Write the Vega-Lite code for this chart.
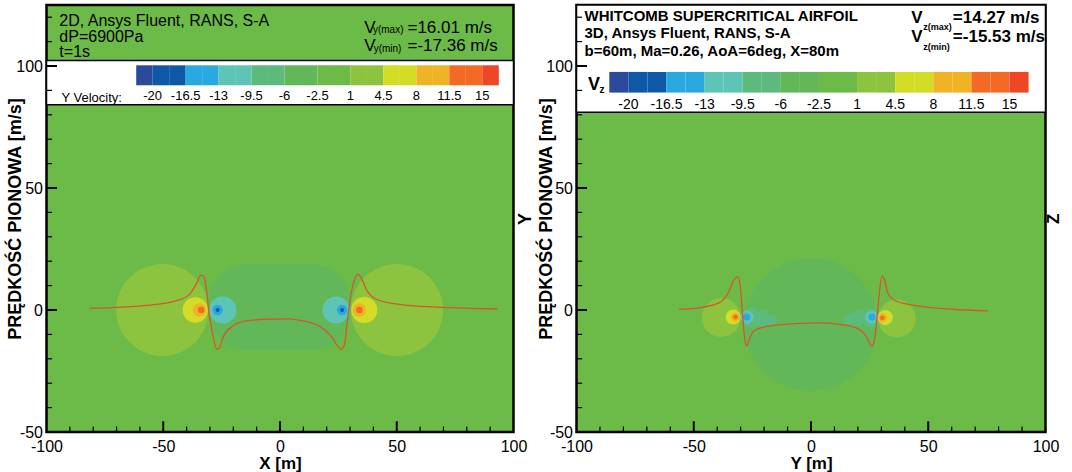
{
  "$schema": "https://vega.github.io/schema/vega-lite/v6.json",
  "padding": {"left": 4.5, "top": 3, "right": 0, "bottom": 0},
  "bounds": "flush",
  "spacing": 63,
  "config": {
    "font": "Liberation Sans",
    "view": {"stroke": "black", "strokeWidth": 2.5, "fill": "#6cbb48"},
    "axis": {
      "domain": false, "grid": false, "labelFont": "Liberation Sans", "labelFontSize": 16,
      "labelColor": "black", "tickColor": "black", "tickOpacity": 0, "titleFont": "Liberation Sans",
      "titleFontSize": 18, "titleFontWeight": "bold", "titleColor": "black",
      "labelOverlap": false, "labelFlush": false, "zindex": 1
    }
  },
  "datasets": {
    "ticks_x_major": [{"t": -50}, {"t": 0}, {"t": 50}],
    "ticks_x_minor": [{"t": -90}, {"t": -80}, {"t": -70}, {"t": -60}, {"t": -40}, {"t": -30}, {"t": -20}, {"t": -10},
      {"t": 10}, {"t": 20}, {"t": 30}, {"t": 40}, {"t": 60}, {"t": 70}, {"t": 80}, {"t": 90}],
    "ticks_y_major": [{"t": 0}, {"t": 50}, {"t": 100}],
    "ticks_y_minor": [{"t": -40}, {"t": -30}, {"t": -20}, {"t": -10}, {"t": 10}, {"t": 20}, {"t": 30}, {"t": 40},
      {"t": 60}, {"t": 70}, {"t": 80}, {"t": 90}, {"t": 110}, {"t": 120}],
    "left_regions": [{"x0": -31, "x1": 30.5, "y0": -16.5, "y1": 19, "v": -4}],
    "left_blobs": [
      {"x": -50.4, "y": 0, "r": 19.7, "v": 2.5},
      {"x": 50.1, "y": 0, "r": 19.7, "v": 2.5},
      {"x": -24.5, "y": 0, "r": 5.8, "v": -11},
      {"x": 24.0, "y": 0, "r": 5.8, "v": -11},
      {"x": -26.7, "y": 0, "r": 2.2, "v": -15},
      {"x": 26.6, "y": 0, "r": 2.2, "v": -15},
      {"x": -26.7, "y": 0, "r": 0.9, "v": -18},
      {"x": 26.6, "y": 0, "r": 0.9, "v": -18},
      {"x": -36.3, "y": 0, "r": 5.4, "v": 6},
      {"x": 36.1, "y": 0, "r": 5.6, "v": 6},
      {"x": -34.5, "y": 0, "r": 2.9, "v": 10},
      {"x": 34.0, "y": 0, "r": 2.9, "v": 10},
      {"x": -33.8, "y": 0, "r": 1.4, "v": 13},
      {"x": 34.0, "y": 0, "r": 1.4, "v": 13}
    ],
    "left_profile": [
      {"x": -81.6, "y": 0.7}, {"x": -67.4, "y": 1.2}, {"x": -53.1, "y": 2.3}, {"x": -44.5, "y": 3.7},
      {"x": -38.8, "y": 6.4}, {"x": -35.9, "y": 10.6}, {"x": -33.8, "y": 14.4}, {"x": -32.4, "y": 13.3},
      {"x": -31.4, "y": 7.8}, {"x": -30.5, "y": -0.4}, {"x": -28.8, "y": -10}, {"x": -27.1, "y": -16.1},
      {"x": -25.9, "y": -15.5}, {"x": -24.5, "y": -11.4}, {"x": -20.3, "y": -6.6}, {"x": -14.5, "y": -4.5},
      {"x": -6, "y": -3.8}, {"x": 4, "y": -3.6}, {"x": 9.7, "y": -4.5}, {"x": 16.9, "y": -6.6},
      {"x": 21.9, "y": -10.7}, {"x": 24.7, "y": -14.8}, {"x": 26.2, "y": -16.1}, {"x": 27.6, "y": -14.1},
      {"x": 29, "y": -3.2}, {"x": 30.4, "y": 6.4}, {"x": 32.3, "y": 13.3}, {"x": 33.3, "y": 14.7},
      {"x": 34.7, "y": 13.3}, {"x": 36.9, "y": 8.5}, {"x": 41.2, "y": 4.4}, {"x": 52.5, "y": 2.1},
      {"x": 66.9, "y": 1.2}, {"x": 81.1, "y": 0.7}, {"x": 93.2, "y": 0.4}
    ],
    "right_blobs": [
      {"x": 0, "y": -6, "r": 28.5, "v": -4},
      {"x": -25.5, "y": -3.2, "r": 4.3, "v": -8},
      {"x": -20.5, "y": -3.5, "r": 3.4, "v": -8},
      {"x": -16.5, "y": -3.8, "r": 2.3, "v": -8},
      {"x": 25.5, "y": -3.2, "r": 4.3, "v": -8},
      {"x": 20.5, "y": -3.5, "r": 3.4, "v": -8},
      {"x": 16.5, "y": -3.8, "r": 2.3, "v": -8},
      {"x": -38.3, "y": -3.1, "r": 8.3, "v": 2.5},
      {"x": 36.6, "y": -3.5, "r": 8.1, "v": 2.5},
      {"x": -27.3, "y": -2.9, "r": 2.8, "v": -11},
      {"x": 25.9, "y": -2.9, "r": 2.8, "v": -11},
      {"x": -27.4, "y": -2.9, "r": 1.5, "v": -15},
      {"x": 26.0, "y": -2.9, "r": 1.5, "v": -15},
      {"x": -33.2, "y": -2.9, "r": 3.2, "v": 6},
      {"x": 31.7, "y": -3.1, "r": 3.2, "v": 6},
      {"x": -32.2, "y": -2.9, "r": 1.9, "v": 10},
      {"x": 30.6, "y": -3.2, "r": 1.9, "v": 10},
      {"x": -32.2, "y": -2.9, "r": 1.0, "v": 13},
      {"x": 30.4, "y": -3.2, "r": 1.0, "v": 13}
    ],
    "right_profile": [
      {"x": -56.2, "y": 0.3}, {"x": -47.7, "y": 0.9}, {"x": -39.1, "y": 3}, {"x": -34.9, "y": 7.8},
      {"x": -32.7, "y": 12.6}, {"x": -31.3, "y": 13.6}, {"x": -30.3, "y": 10.6}, {"x": -29.4, "y": 0.9},
      {"x": -28.5, "y": -10}, {"x": -27.5, "y": -14.8}, {"x": -26.3, "y": -12}, {"x": -24.2, "y": -8.4},
      {"x": -17.8, "y": -6.6}, {"x": -6.4, "y": -5.6}, {"x": 3.5, "y": -5.3}, {"x": 12.1, "y": -5.9},
      {"x": 19.2, "y": -7.3}, {"x": 23.5, "y": -10.7}, {"x": 26, "y": -14.8}, {"x": 27, "y": -12.7},
      {"x": 28.4, "y": -0.4}, {"x": 29.4, "y": 9.2}, {"x": 30.3, "y": 14}, {"x": 31.3, "y": 12.6},
      {"x": 32.7, "y": 7.1}, {"x": 36.3, "y": 3.7}, {"x": 46.2, "y": 1.6}, {"x": 60.4, "y": 0.3},
      {"x": 75.4, "y": -0.4}
    ]
  },
  "hconcat": [
    {
      "width": 467,
      "height": 427,
      "resolve": {"axis": {"x": "independent", "y": "independent"}},
      "layer": [
        {
          "data": {"values": [{}]},
          "mark": {"type": "rect", "fill": "white", "stroke": "black", "strokeWidth": 1.5},
          "encoding": {"x": {"datum": -100, "axis": null}, "x2": {"datum": 100}, "y": {"datum": 84.1, "axis": null}, "y2": {"datum": 102.3}}
        },
        {
          "data": {"name": "left_regions"},
          "mark": {"type": "rect", "cornerRadius": 40},
          "encoding": {
            "x": {"field": "x0", "type": "quantitative", "axis": null}, "x2": {"field": "x1"},
            "y": {"field": "y0", "type": "quantitative", "axis": null}, "y2": {"field": "y1"},
            "color": {"field": "v", "type": "quantitative",
              "scale": {"type": "threshold", "domain": [-20,-18.25,-16.5,-14.75,-13,-11.25,-9.5,-7.75,-6,-4.25,-2.5,-0.75,1,2.75,4.5,6.25,8,9.75,11.5,13.25,15],
                "range": ["#2b4a9b","#0e58a7","#0e58a7","#2aa8e0","#2aa8e0","#5ec4b6","#5ec4b6","#5cba7c","#5cba7c","#62b858","#62b858","#6cbb48","#6cbb48","#8cc43f","#8cc43f","#d4dd26","#d4dd26","#efb325","#efb325","#f26a24","#f26a24","#ee4627"]}}
          }
        },
        {
          "data": {"name": "left_blobs"},
          "mark": {"type": "point", "shape": "circle", "filled": true, "opacity": 1, "strokeWidth": 0},
          "encoding": {
            "x": {"field": "x", "type": "quantitative", "axis": null},
            "y": {"field": "y", "type": "quantitative", "axis": null},
            "size": {"field": "r", "type": "quantitative", "scale": {"type": "pow", "exponent": 2, "domain": [0, 30], "range": [0, 19713]}, "legend": null},
            "color": {"field": "v", "type": "quantitative",
              "scale": {"type": "threshold", "domain": [-20,-18.25,-16.5,-14.75,-13,-11.25,-9.5,-7.75,-6,-4.25,-2.5,-0.75,1,2.75,4.5,6.25,8,9.75,11.5,13.25,15],
                "range": ["#2b4a9b","#0e58a7","#0e58a7","#2aa8e0","#2aa8e0","#5ec4b6","#5ec4b6","#5cba7c","#5cba7c","#62b858","#62b858","#6cbb48","#6cbb48","#8cc43f","#8cc43f","#d4dd26","#d4dd26","#efb325","#efb325","#f26a24","#f26a24","#ee4627"]},
              "legend": {"type": "gradient", "orient": "none", "legendX": 89.7, "legendY": 60.3, "direction": "horizontal",
                "gradientLength": 362.6, "gradientThickness": 20, "gradientStrokeWidth": 0, "title": null, "padding": 0,
                "labelFont": "Liberation Sans", "labelFontSize": 13, "labelColor": "black", "labelOffset": 5, "labelOverlap": false,
                "labelExpr": "(datum.value + 20) % 3.5 === 0 ? toString(datum.value) : ''"}}
          }
        },
        {
          "data": {"name": "left_profile"},
          "mark": {"type": "line", "color": "#d4572a", "strokeWidth": 1.3, "interpolate": "monotone"},
          "encoding": {
            "x": {"field": "x", "type": "quantitative", "scale": {"domain": [-100, 100], "nice": false, "zero": false},
              "axis": {"orient": "bottom", "values": [-100, -50, 0, 50, 100], "title": "X [m]", "labelOverlap": false,
                "labelExpr": "toString(datum.value)", "offset": -10, "tickSize": 10, "tickOpacity": 0, "zindex": 1,
                "labelPadding": 6, "titlePadding": 1, "titleFontSize": 17}},
            "y": {"field": "y", "type": "quantitative", "scale": {"domain": [-50, 125], "nice": false, "zero": false},
              "axis": {"orient": "left", "values": [-50, 0, 50, 100], "title": "PRĘDKOŚĆ PIONOWA [m/s]", "labelOverlap": false,
                "labelExpr": "toString(datum.value)", "offset": -10, "tickSize": 10, "tickOpacity": 0, "zindex": 1,
                "labelPadding": 4, "titlePadding": -8.5}}
          }
        },
        {
          "data": {"name": "ticks_x_major"},
          "mark": {"type": "rule", "color": "black", "strokeWidth": 2},
          "encoding": {"x": {"field": "t", "type": "quantitative", "axis": null}, "y": {"datum": -50, "axis": null}, "y2": {"datum": -45.6}}
        },
        {
          "data": {"name": "ticks_x_minor"},
          "mark": {"type": "rule", "color": "black", "strokeWidth": 1.2},
          "encoding": {"x": {"field": "t", "type": "quantitative", "axis": null}, "y": {"datum": -50, "axis": null}, "y2": {"datum": -47.7}}
        },
        {
          "data": {"name": "ticks_y_major"},
          "mark": {"type": "rule", "color": "black", "strokeWidth": 2},
          "encoding": {"y": {"field": "t", "type": "quantitative", "axis": null}, "x": {"datum": -100, "axis": null}, "x2": {"datum": -95.5}}
        },
        {
          "data": {"name": "ticks_y_minor"},
          "mark": {"type": "rule", "color": "black", "strokeWidth": 1.2},
          "encoding": {"y": {"field": "t", "type": "quantitative", "axis": null}, "x": {"datum": -100, "axis": null}, "x2": {"datum": -97.6}}
        },
        {
          "data": {"values": [{}]},
          "mark": {"type": "text", "align": "left", "baseline": "top", "fontSize": 16, "lineHeight": 15.5, "color": "black"},
          "encoding": {"x": {"datum": -94.5, "axis": null}, "y": {"datum": 121.6, "axis": null}, "text": {"value": ["2D, Ansys Fluent, RANS, S-A", "dP=6900Pa", "t=1s"]}}
        },
        {
          "data": {"values": [{}]},
          "mark": {"type": "text", "align": "left", "baseline": "top", "fontSize": 17, "lineHeight": 18, "color": "black"},
          "encoding": {"x": {"datum": 36.1, "axis": null}, "y": {"datum": 118.8, "axis": null}, "text": {"value": ["V", "V"]}}
        },
        {
          "data": {"values": [{}]},
          "mark": {"type": "text", "align": "left", "baseline": "top", "fontSize": 17, "lineHeight": 18, "color": "black"},
          "encoding": {"x": {"datum": 54.6, "axis": null}, "y": {"datum": 118.8, "axis": null}, "text": {"value": ["=16.01 m/s", "=-17.36 m/s"]}}
        },
        {
          "data": {"values": [{}]},
          "mark": {"type": "text", "align": "left", "baseline": "middle", "fontSize": 10, "color": "black"},
          "encoding": {"x": {"datum": 39.8, "axis": null}, "y": {"datum": 114.6, "axis": null}, "text": {"value": "y(max)"}}
        },
        {
          "data": {"values": [{}]},
          "mark": {"type": "text", "align": "left", "baseline": "middle", "fontSize": 10, "color": "black"},
          "encoding": {"x": {"datum": 40.1, "axis": null}, "y": {"datum": 107.0, "axis": null}, "text": {"value": "y(min)"}}
        },
        {
          "data": {"values": [{}]},
          "mark": {"type": "text", "align": "left", "baseline": "middle", "fontSize": 13, "color": "black"},
          "encoding": {"x": {"datum": -93.6, "axis": null}, "y": {"datum": 87.0, "axis": null}, "text": {"value": "Y Velocity:"}}
        }
      ]
    },
    {
      "width": 469,
      "height": 427,
      "resolve": {"axis": {"x": "independent", "y": "independent"}},
      "layer": [
        {
          "data": {"values": [{}]},
          "mark": {"type": "rect", "fill": "white", "stroke": "black", "strokeWidth": 1.5},
          "encoding": {"x": {"datum": -100, "axis": null}, "x2": {"datum": 100}, "y": {"datum": 81, "axis": null}, "y2": {"datum": 125}}
        },
        {
          "data": {"name": "right_blobs"},
          "mark": {"type": "point", "shape": "circle", "filled": true, "opacity": 1, "strokeWidth": 0},
          "encoding": {
            "x": {"field": "x", "type": "quantitative", "axis": null},
            "y": {"field": "y", "type": "quantitative", "axis": null},
            "size": {"field": "r", "type": "quantitative", "scale": {"type": "pow", "exponent": 2, "domain": [0, 30], "range": [0, 19713]}, "legend": null},
            "color": {"field": "v", "type": "quantitative",
              "scale": {"type": "threshold", "domain": [-20,-18.25,-16.5,-14.75,-13,-11.25,-9.5,-7.75,-6,-4.25,-2.5,-0.75,1,2.75,4.5,6.25,8,9.75,11.5,13.25,15],
                "range": ["#2b4a9b","#0e58a7","#0e58a7","#2aa8e0","#2aa8e0","#5ec4b6","#5ec4b6","#5cba7c","#5cba7c","#62b858","#62b858","#6cbb48","#6cbb48","#8cc43f","#8cc43f","#d4dd26","#d4dd26","#efb325","#efb325","#f26a24","#f26a24","#ee4627"]},
              "legend": {"type": "gradient", "orient": "none", "legendX": 32.8, "legendY": 66.9, "direction": "horizontal",
                "gradientLength": 419.3, "gradientThickness": 20.7, "gradientStrokeWidth": 0, "title": null, "padding": 0,
                "labelFont": "Liberation Sans", "labelFontSize": 14, "labelColor": "black", "labelOffset": 5, "labelOverlap": false,
                "labelExpr": "(datum.value + 20) % 3.5 === 0 ? toString(datum.value) : ''"}}
          }
        },
        {
          "data": {"name": "right_profile"},
          "mark": {"type": "line", "color": "#d4572a", "strokeWidth": 1.3, "interpolate": "monotone"},
          "encoding": {
            "x": {"field": "x", "type": "quantitative", "scale": {"domain": [-100, 100], "nice": false, "zero": false},
              "axis": {"orient": "bottom", "values": [-100, -50, 0, 50, 100], "title": "Y [m]", "labelOverlap": false,
                "labelExpr": "toString(datum.value)", "offset": -10, "tickSize": 10, "tickOpacity": 0, "zindex": 1,
                "labelPadding": 6, "titlePadding": 1, "titleFontSize": 17}},
            "y": {"field": "y", "type": "quantitative", "scale": {"domain": [-50, 125], "nice": false, "zero": false},
              "axis": {"orient": "left", "values": [-50, 0, 50, 100], "title": ["Y", "PRĘDKOŚĆ PIONOWA [m/s]"], "titleLineHeight": 21, "labelOverlap": false,
                "labelExpr": "toString(datum.value)", "offset": -10, "tickSize": 10, "tickOpacity": 0, "zindex": 1,
                "labelPadding": 4, "titlePadding": -10}}
          }
        },
        {
          "data": {"name": "ticks_x_major"},
          "mark": {"type": "rule", "color": "black", "strokeWidth": 2},
          "encoding": {"x": {"field": "t", "type": "quantitative", "axis": null}, "y": {"datum": -50, "axis": null}, "y2": {"datum": -45.6}}
        },
        {
          "data": {"name": "ticks_x_minor"},
          "mark": {"type": "rule", "color": "black", "strokeWidth": 1.2},
          "encoding": {"x": {"field": "t", "type": "quantitative", "axis": null}, "y": {"datum": -50, "axis": null}, "y2": {"datum": -47.7}}
        },
        {
          "data": {"name": "ticks_y_major"},
          "mark": {"type": "rule", "color": "black", "strokeWidth": 2},
          "encoding": {"y": {"field": "t", "type": "quantitative", "axis": null}, "x": {"datum": -100, "axis": null}, "x2": {"datum": -95.5}}
        },
        {
          "data": {"name": "ticks_y_minor"},
          "mark": {"type": "rule", "color": "black", "strokeWidth": 1.2},
          "encoding": {"y": {"field": "t", "type": "quantitative", "axis": null}, "x": {"datum": -100, "axis": null}, "x2": {"datum": -97.6}}
        },
        {
          "data": {"values": [{}]},
          "mark": {"type": "text", "align": "left", "baseline": "top", "fontSize": 15, "fontWeight": "bold", "lineHeight": 17.5, "color": "black"},
          "encoding": {"x": {"datum": -96.6, "axis": null}, "y": {"datum": 123.5, "axis": null}, "text": {"value": ["WHITCOMB SUPERCRITICAL AIRFOIL", "3D, Ansys Fluent, RANS, S-A", "b=60m, Ma=0.26, AoA=6deg, X=80m"]}}
        },
        {
          "data": {"values": [{}]},
          "mark": {"type": "text", "align": "left", "baseline": "top", "fontSize": 17, "fontWeight": "bold", "lineHeight": 19.5, "color": "black"},
          "encoding": {"x": {"datum": 42.8, "axis": null}, "y": {"datum": 123.0, "axis": null}, "text": {"value": ["V", "V"]}}
        },
        {
          "data": {"values": [{}]},
          "mark": {"type": "text", "align": "left", "baseline": "top", "fontSize": 17, "fontWeight": "bold", "lineHeight": 19.5, "color": "black"},
          "encoding": {"x": {"datum": 60.5, "axis": null}, "y": {"datum": 123.0, "axis": null}, "text": {"value": ["=14.27 m/s", "=-15.53 m/s"]}}
        },
        {
          "data": {"values": [{}]},
          "mark": {"type": "text", "align": "left", "baseline": "middle", "fontSize": 9, "fontWeight": "bold", "color": "black"},
          "encoding": {"x": {"datum": 47.9, "axis": null}, "y": {"datum": 115.9, "axis": null}, "text": {"value": "z(max)"}}
        },
        {
          "data": {"values": [{}]},
          "mark": {"type": "text", "align": "left", "baseline": "middle", "fontSize": 9, "fontWeight": "bold", "color": "black"},
          "encoding": {"x": {"datum": 47.9, "axis": null}, "y": {"datum": 107.6, "axis": null}, "text": {"value": "z(min)"}}
        },
        {
          "data": {"values": [{}]},
          "mark": {"type": "text", "align": "left", "baseline": "middle", "fontSize": 18, "fontWeight": "bold", "color": "black"},
          "encoding": {"x": {"datum": -95.1, "axis": null}, "y": {"datum": 92.3, "axis": null}, "text": {"value": "V"}}
        },
        {
          "data": {"values": [{}]},
          "mark": {"type": "text", "align": "left", "baseline": "middle", "fontSize": 10, "fontWeight": "bold", "color": "black"},
          "encoding": {"x": {"datum": -90.2, "axis": null}, "y": {"datum": 90.0, "axis": null}, "text": {"value": "z"}}
        },
        {
          "data": {"values": [{}]},
          "mark": {"type": "text", "align": "center", "baseline": "middle", "fontSize": 17, "fontWeight": "bold", "angle": 270, "color": "black"},
          "encoding": {"x": {"datum": 103.8, "axis": null}, "y": {"datum": 37.4, "axis": null}, "text": {"value": "Z"}}
        }
      ]
    }
  ],
  "resolve": {"scale": {"color": "independent", "size": "independent", "x": "independent", "y": "independent"}, "legend": {"color": "independent"}}
}
